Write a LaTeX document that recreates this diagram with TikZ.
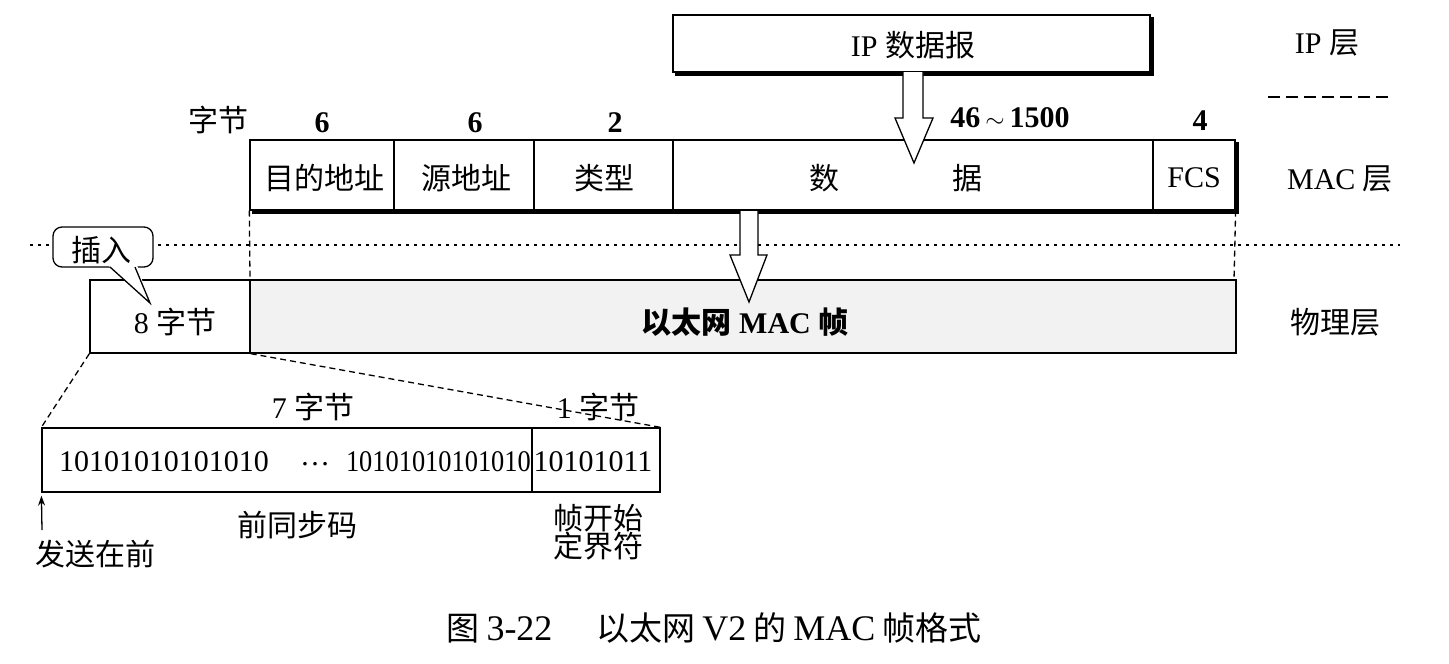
\documentclass[tikz,border=0pt]{standalone}
\usepackage{fontspec}
\setmainfont{Liberation Serif}
\newfontfamily\cjk{Noto Sans CJK SC}
\usetikzlibrary{calc,arrows.meta}
\newcommand\fs{\fontsize{30}{34}\selectfont}
\newcommand\capl{\fontsize{36}{38}\selectfont}
\begin{document}
\begin{tikzpicture}[x=1pt,y=-1pt,
  cell/.style={draw, line width=1.3pt, inner sep=0pt, minimum height=70, font=\fs},
  txt/.style={inner sep=0pt, font=\fs},
  num/.style={inner sep=0pt, font=\fs\bfseries},
  hollow/.style={draw, line width=1.3pt, fill=white, line join=miter},
  shadowline/.style={line width=2.4pt},
  dashline/.style={line width=1.3pt, dash pattern=on 6pt off 4pt},
  dotline/.style={line width=1.2pt, dash pattern=on 3pt off 5pt}]
\useasboundingbox (0,0) rectangle (1449,664);

% dotted layer separator
\coordinate (dotL) at (30,245);
\coordinate (dotR) at (1400,245);
\draw[dotline] (dotL) -- (dotR);

% IP datagram
\node[cell, minimum width=477, minimum height=57] (ip) at (911.5,43.5) {};
\draw[shadowline] ($(ip.north east)+(2,3)$) -- ($(ip.south east)+(2,2)$) -- ($(ip.south west)+(3,2)$);
\node[txt] (iptxt) at (913,45) {IP {\cjk 数据报}};

% layer labels
\node[txt] (iplayer) at (1327,43) {IP {\cjk 层}};
\coordinate (sepL) at (1268,97);
\coordinate (sepR) at (1393,97);
\draw[line width=1.3pt, dash pattern=on 12pt off 6pt] (sepL) -- (sepR);
\node[txt] (maclayer) at (1340,179) {MAC {\cjk 层}};
\node[txt] (phylayer) at (1335,322) {\cjk 物理层};

% byte counts
\node[txt] (bytes) at (218,120) {\cjk 字节};
\node[num] (n1) at (322,123) {6};
\node[num] (n2) at (475,123) {6};
\node[num] (n3) at (615,123) {2};
\node[num] (n4) at (1010,118) {46\,$\sim$\,1500};
\node[num] (n5) at (1200,121) {4};

% MAC frame fields
\node[cell, minimum width=144] (dst) at (322,175) {};
\node[cell, minimum width=140] (src) at (464,175) {};
\node[cell, minimum width=139] (type) at (603.5,175) {};
\node[cell, minimum width=480] (data) at (913,175) {};
\node[cell, minimum width=82] (fcs) at (1194,175) {};
\node[txt] (dsttxt) at (324,178) {\cjk 目的地址};
\node[txt] (srctxt) at (466,178) {\cjk 源地址};
\node[txt] (typetxt) at (604,178) {\cjk 类型};
\node[txt] (fcstxt) at (1194,178) {FCS};
\node[txt] (shu) at (824,178) {\cjk 数};
\node[txt] (ju) at (967,178) {\cjk 据};
\draw[shadowline] ($(fcs.north east)+(2,3)$) -- ($(fcs.south east)+(2,2)$) -- ($(dst.south west)+(3,2)$);

% dashed verticals
\draw[dashline] (dst.south west) -- (250,280);
\draw[dashline] (fcs.south east) -- (1234,280);

% physical layer
\node[cell, minimum width=160, minimum height=73] (eight) at (170,316.5) {};
\node[txt] (eighttxt) at (175,322) {8 {\cjk 字节}};
\node[cell, minimum width=986, minimum height=73, fill=black!5] (frame) at (743,316.5) {};
\node[txt] (frametxt) at (745,322) {{\cjk\bfseries 以太网} \textbf{MAC} {\cjk\bfseries 帧}};

% hollow arrows
\draw[hollow] (903,72) -- (903,118) -- (895,118) -- (914,163) -- (933,118) -- (923,118) -- (923,72);
\draw[hollow] (740,211) -- (740,255) -- (730,255) -- (749,302) -- (767,255) -- (758,255) -- (758,211);

% callout
\node[draw, line width=1.3pt, rounded corners=9, fill=white, minimum width=100, minimum height=40, inner sep=0pt] (callout) at (103,247) {};
\node[txt] (callouttxt) at (101,250) {\cjk 插入};
\fill[white] (108,265) -- (150,303) -- (137,265) -- cycle;
\draw[line width=1.3pt, line join=miter] (110,267) -- (150,303) -- (135,267);

% preamble
\node[cell, minimum width=490, minimum height=64] (pre) at (287,460) {};
\node[cell, minimum width=128, minimum height=64] (sfd) at (596,460) {};
\draw[dashline] (eight.south west) -- (pre.north west);
\draw[dashline] (eight.south east) -- (sfd.north east);
\node[txt] (bitsA) at (164,462) {10101010101010};
\node[txt] (dots) at (315,464) {\dots};
\node[txt, anchor=east, xscale=0.88] (bitsB) at (531,462) {10101010101010};
\node[txt] (bitsC) at (593,462) {10101011};
\node[txt] (seven) at (313,407) {7 {\cjk 字节}};
\node[txt] (one) at (598,407) {1 {\cjk 字节}};
\node[txt] (pretxt) at (297,525) {\cjk 前同步码};
\node[txt] (sfd1) at (598,518) {\cjk 帧开始};
\node[txt] (sfd2) at (598,546) {\cjk 定界符};
\coordinate (sendtail) at (42,530);
\draw[line width=1.3pt, -{Stealth[length=10pt,width=7pt]}, shorten >=3pt] (sendtail) -- (pre.south west);
\node[txt] (send) at (95,554) {\cjk 发送在前};

% caption
\node[inner sep=0pt, font=\fontsize{33}{38}\selectfont] (caption) at (714,628) {{\cjk 图}\hspace{7pt}{\capl 3-22}\hspace{44pt}{\cjk 以太网}\hspace{7pt}{\capl V2}\hspace{7pt}{\cjk 的}\hspace{7pt}{\capl MAC}\hspace{7pt}{\cjk 帧格式}};
\end{tikzpicture}
\end{document}
